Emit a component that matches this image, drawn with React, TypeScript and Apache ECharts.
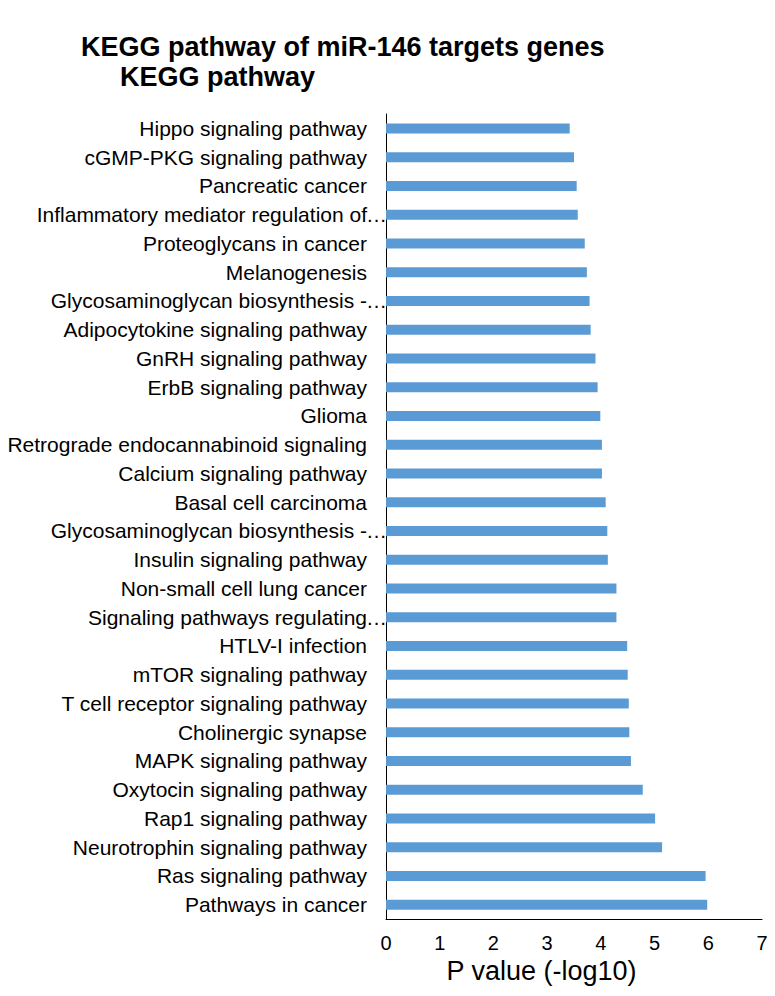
import React, { useEffect, useRef } from "react";
import * as echarts from "echarts";

const categories: string[] = [
  "Hippo signaling pathway",
  "cGMP-PKG signaling pathway",
  "Pancreatic cancer",
  "Inflammatory mediator regulation of…",
  "Proteoglycans in cancer",
  "Melanogenesis",
  "Glycosaminoglycan biosynthesis -…",
  "Adipocytokine signaling pathway",
  "GnRH signaling pathway",
  "ErbB signaling pathway",
  "Glioma",
  "Retrograde endocannabinoid signaling",
  "Calcium signaling pathway",
  "Basal cell carcinoma",
  "Glycosaminoglycan biosynthesis -…",
  "Insulin signaling pathway",
  "Non-small cell lung cancer",
  "Signaling pathways regulating…",
  "HTLV-I infection",
  "mTOR signaling pathway",
  "T cell receptor signaling pathway",
  "Cholinergic synapse",
  "MAPK signaling pathway",
  "Oxytocin signaling pathway",
  "Rap1 signaling pathway",
  "Neurotrophin signaling pathway",
  "Ras signaling pathway",
  "Pathways in cancer",
];

const pValues: number[] = [
  3.42, 3.5, 3.55, 3.57, 3.7, 3.74, 3.79, 3.81, 3.9, 3.94, 3.99, 4.02, 4.02,
  4.09, 4.12, 4.13, 4.29, 4.29, 4.49, 4.5, 4.52, 4.53, 4.56, 4.78, 5.01, 5.14,
  5.95, 5.98,
];

const mainTitle = "KEGG pathway of miR-146 targets genes";
const subTitle = "KEGG pathway";
const xAxisName = "P value (-log10)";
const xMin = 0;
const xMax = 7;
const xInterval = 1;

const FONT = "'Liberation Sans', Arial, sans-serif";

export default function App() {
  const ref = useRef<HTMLDivElement>(null);

  useEffect(() => {
    document.body.style.margin = "0";
    if (!ref.current) return;
    const chart = echarts.init(ref.current, null, { renderer: "svg" });
    chart.setOption({
      animation: false,
      backgroundColor: "#ffffff",
      textStyle: { fontFamily: FONT },
      graphic: [
        {
          type: "text",
          left: 81,
          top: 33,
          style: {
            text: mainTitle,
            font: `bold 27px ${FONT}`,
            fill: "#000000",
          },
        },
        {
          type: "text",
          left: 120,
          top: 63,
          style: {
            text: subTitle,
            font: `bold 27px ${FONT}`,
            fill: "#000000",
          },
        },
      ],
      grid: {
        left: 386,
        right: 13,
        top: 114,
        bottom: 77,
        containLabel: false,
      },
      xAxis: {
        type: "value",
        min: xMin,
        max: xMax,
        interval: xInterval,
        name: xAxisName,
        nameLocation: "middle",
        nameGap: 38,
        nameTextStyle: {
          fontSize: 27,
          color: "#000000",
          fontFamily: FONT,
          padding: [0, 65, 0, 0],
        },
        axisLine: { show: true, lineStyle: { color: "#000000", width: 1 } },
        axisTick: { show: false },
        splitLine: { show: false },
        axisLabel: {
          fontSize: 20,
          color: "#000000",
          fontFamily: FONT,
          margin: 14,
        },
      },
      yAxis: {
        type: "category",
        data: categories,
        inverse: true,
        axisLine: { show: true, lineStyle: { color: "#000000", width: 1 } },
        axisTick: { show: false },
        splitLine: { show: false },
        axisLabel: {
          interval: 0,
          margin: 0,
          color: "#000000",
          fontFamily: FONT,
          fontSize: 21,
          formatter: (v: string) =>
            v.endsWith("…")
              ? `{t|${v.slice(0, -1)}}{e|…}`
              : `{t|${v}}{p| }`,
          rich: {
            t: { fontSize: 21, color: "#000000", fontFamily: FONT },
            e: {
              fontSize: 21,
              color: "#000000",
              fontFamily: FONT,
              width: 19,
              align: "left",
            },
            p: { fontSize: 21, width: 19 },
          },
        },
      },
      series: [
        {
          type: "bar",
          data: pValues,
          barWidth: 10,
          itemStyle: { color: "#5B9BD5" },
        },
      ],
    });
    return () => chart.dispose();
  }, []);

  return <div ref={ref} style={{ width: 775, height: 996 }} />;
}
